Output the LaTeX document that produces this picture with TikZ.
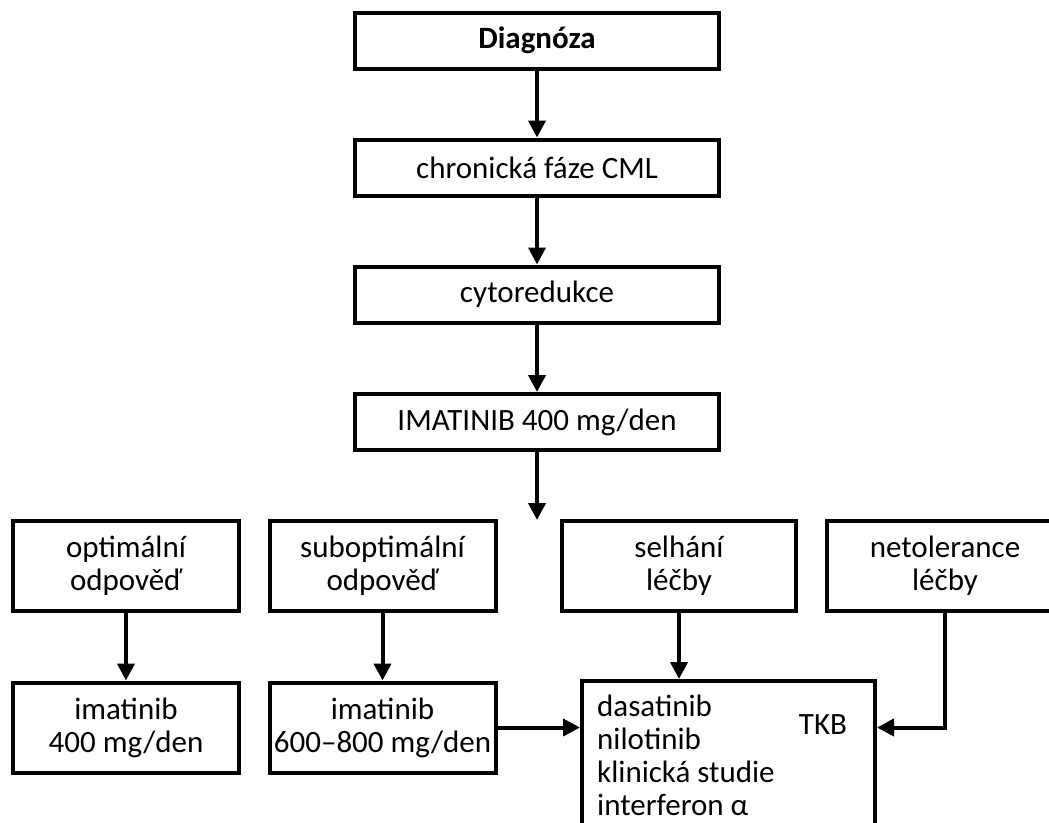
\documentclass[tikz,border=0pt]{standalone}
\usepackage{fontspec}
\setmainfont{Carlito}
\usepackage{tikz}
\usetikzlibrary{arrows.meta}

\begin{document}
\begin{tikzpicture}[x=1pt, y=-1pt,
    every node/.style={font=\fontsize{31pt}{33pt}\selectfont},
    box/.style={draw, line width=4pt, align=center, inner sep=0pt},
    topbox/.style={box, minimum width=364pt, minimum height=56pt},
    rowbox/.style={box, minimum width=226pt, minimum height=90pt},
    arr/.style={line width=4pt, -{Triangle[width=17pt, length=17pt]}}]
    % Page frame
    \clip (0,0) rectangle (1049,822);

    % Main column
    \node[topbox, font=\fontsize{31pt}{33pt}\selectfont\bfseries] (diag) at (537,40.5) {Diagnóza};
    \node[topbox] (chron) at (537,167.5) {chronická fáze CML};
    \node[topbox] (cyto) at (537,294.5) {cytoredukce};
    \node[topbox] (imat) at (537,422) {IMATINIB 400 mg/den};
    \coordinate (split) at (537,520);

    % Response boxes
    \node[rowbox] (opt) at (126,566) {optimální\\odpověď};
    \node[rowbox] (subopt) at (382.5,566) {suboptimální\\odpověď};
    \node[rowbox, minimum width=234pt] (fail) at (679,566) {selhání\\léčby};
    \node[rowbox, minimum width=236pt] (intol) at (945,566) {netolerance\\léčby};

    % Treatment boxes
    \node[rowbox] (imat400) at (126,727.5) {imatinib\\400 mg/den};
    \node[rowbox] (imat800) at (382.5,727.5) {imatinib\\600--800 mg/den};
    \node[box, minimum width=293pt, minimum height=190pt] (tkb) at (728.5,776) {};
    \node[anchor=north west, align=left, inner sep=0pt] (tkblist) at (597,695)
        {dasatinib\\nilotinib\\klinická studie\\interferon α};
    \node (tkblabel) at (823,725) {TKB};

    % Arrows down the column
    \foreach \a/\b in {diag/chron, chron/cyto, cyto/imat}
        \draw[arr] (\a) -- (\b);
    \draw[arr] (imat) -- (split);

    % Arrows to the treatments
    \draw[arr] (opt) -- (imat400);
    \draw[arr] (subopt) -- (imat800);
    \draw[arr] (fail.south) -- (fail.south |- tkb.north);
    \draw[arr] (imat800.east) -- (imat800.east -| tkb.west);
    \draw[arr] (intol.south) |- (tkb.east |- imat800.east);
\end{tikzpicture}
\end{document}
